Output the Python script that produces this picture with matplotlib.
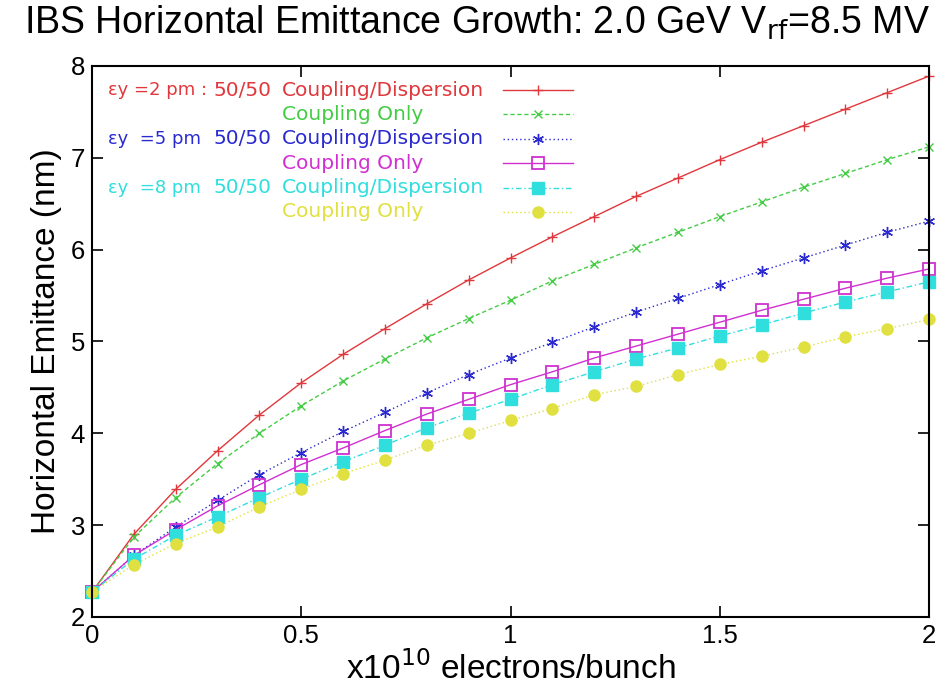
import matplotlib
matplotlib.use("Agg")
import matplotlib.pyplot as plt

plt.rcParams['font.family'] = ['Liberation Sans', 'DejaVu Sans']

x = [0.0, 0.1, 0.2, 0.3, 0.4, 0.5, 0.6, 0.7, 0.8, 0.9, 1.0,
     1.1, 1.2, 1.3, 1.4, 1.5, 1.6, 1.7, 1.8, 1.9, 2.0]

red_2pm_5050 = [2.27, 2.90, 3.39, 3.81, 4.20, 4.55, 4.86, 5.14, 5.41, 5.67, 5.91,
                6.14, 6.36, 6.58, 6.78, 6.98, 7.17, 7.35, 7.53, 7.71, 7.89]
green_2pm_coup = [2.27, 2.87, 3.30, 3.67, 4.00, 4.30, 4.57, 4.81, 5.04, 5.25, 5.45,
                  5.66, 5.84, 6.02, 6.19, 6.36, 6.52, 6.68, 6.83, 6.98, 7.12]
blue_5pm_5050 = [2.27, 2.67, 2.98, 3.27, 3.55, 3.79, 4.02, 4.23, 4.44, 4.64, 4.82,
                 4.99, 5.16, 5.32, 5.47, 5.62, 5.77, 5.91, 6.05, 6.19, 6.31]
mag_5pm_coup = [2.27, 2.67, 2.95, 3.21, 3.44, 3.66, 3.84, 4.03, 4.21, 4.37, 4.53,
                4.67, 4.82, 4.95, 5.08, 5.21, 5.34, 5.46, 5.58, 5.69, 5.79]
cyan_8pm_5050 = [2.27, 2.63, 2.89, 3.09, 3.30, 3.50, 3.69, 3.87, 4.06, 4.22, 4.37,
                 4.53, 4.67, 4.81, 4.93, 5.06, 5.18, 5.31, 5.43, 5.54, 5.65]
yel_8pm_coup = [2.27, 2.57, 2.80, 2.98, 3.20, 3.39, 3.56, 3.71, 3.87, 4.00, 4.14,
                4.27, 4.42, 4.51, 4.64, 4.75, 4.84, 4.94, 5.05, 5.14, 5.24]

# legend text pieces (three aligned columns)
legend_eps = ["εy =2 pm :", "", "εy  =5 pm", "", "εy  =8 pm", ""]
legend_ratio = ["50/50", "", "50/50", "", "50/50", ""]
legend_kind = ["Coupling/Dispersion", "Coupling Only", "Coupling/Dispersion",
               "Coupling Only", "Coupling/Dispersion", "Coupling Only"]

series = [red_2pm_5050, green_2pm_coup, blue_5pm_5050, mag_5pm_coup, cyan_8pm_5050, yel_8pm_coup]
colors = ['#e0383c', '#44cc44', '#2a2ad0', '#d030d0', '#30dede', '#e0e040']
styles = [dict(ls='-', marker='+', ms=7, mfc='none'),
          dict(ls=(0, (3, 2)), marker='x', ms=6, mfc='none'),
          dict(ls=(0, (1, 2)), marker=(6, 2, 0), ms=8, mfc='none'),
          dict(ls='-', marker='s', ms=8, mfc='none', mew=1.3),
          dict(ls=(0, (4, 2, 1, 2)), marker='s', ms=8),
          dict(ls=(0, (1, 2)), marker='o', ms=8)]

W, H = 953, 693
fig = plt.figure(figsize=(W / 100, H / 100), dpi=100)
AX_L, AX_B, AX_W, AX_H = 0.0965, 0.1097, 0.8785, 0.7951
ax = fig.add_axes([AX_L, AX_B, AX_W, AX_H])

for y, c, st in zip(series, colors, styles):
    ax.plot(x, y, color=c, lw=1.0, clip_on=False, **st)

ax.set_xlim(0, 2)
ax.set_ylim(2, 8)
ax.set_xticks([0, 0.5, 1, 1.5, 2])
ax.set_xticklabels(['0', '0.5', '1', '1.5', '2'])
ax.set_yticks([2, 3, 4, 5, 6, 7, 8])
ax.tick_params(direction='in', length=8, width=1.2, labelsize=18.5,
               top=True, right=True, pad=5)
for s in ax.spines.values():
    s.set_linewidth(1.5)

fig.suptitle("IBS Horizontal Emittance Growth: 2.0 GeV V$_{\\rm rf}$=8.5 MV",
             fontsize=27, x=0.5, y=0.995, va='top')
ax.set_xlabel("x10$^{10}$ electrons/bunch", fontsize=24, labelpad=2)
ax.set_ylabel("Horizontal Emittance (nm)", fontsize=24, labelpad=6)

# ---- hand-made legend (layout in pixel units converted to axes fraction) ----
ax_px_l, ax_px_t = AX_L * W, (1 - AX_B - AX_H) * H
ax_px_w, ax_px_h = AX_W * W, AX_H * H
def fx(px):
    return (px - ax_px_l) / ax_px_w
def fy(py):
    return 1 - (py - ax_px_t) / ax_px_h

row0_py, row_dy = 90, 24.4
col_eps, col_ratio, col_kind = 108, 214, 282
key_x0, key_x1 = 503, 573
for i, (e, r, k, c, st) in enumerate(zip(legend_eps, legend_ratio, legend_kind, colors, styles)):
    yy = fy(row0_py + i * row_dy)
    tk = dict(transform=ax.transAxes, color=c, va='center', family=['DejaVu Sans'])
    if e:
        ax.text(fx(col_eps), yy, e, fontsize=13, **tk)
    if r:
        ax.text(fx(col_ratio), yy, r, fontsize=14.5, **tk)
    ax.text(fx(col_kind), yy, k, fontsize=14.5, **tk)
    ax.plot([fx(key_x0), fx((key_x0 + key_x1) / 2), fx(key_x1)], [yy, yy, yy],
            transform=ax.transAxes, color=c, lw=1.0, markevery=[1], clip_on=False, **st)

fig.savefig("out.png", dpi=100)
